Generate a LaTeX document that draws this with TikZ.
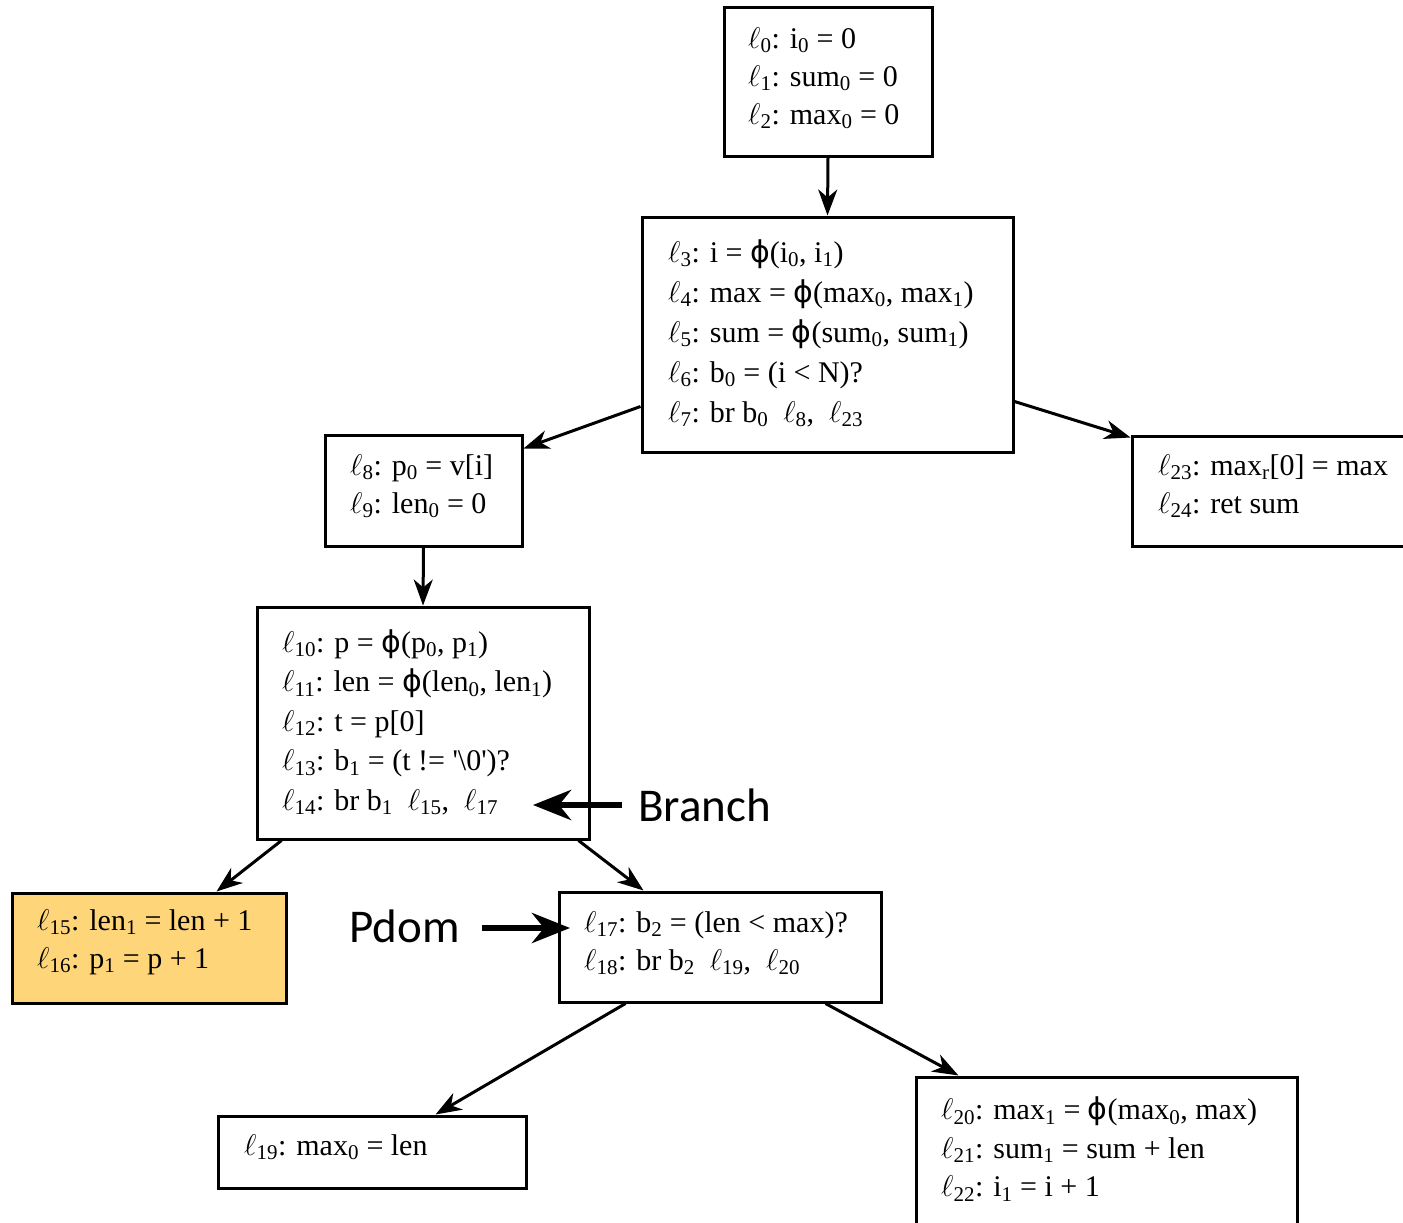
\documentclass[tikz,border=0pt]{standalone}
\usepackage{fix-cm}
\usepackage{fontspec}
\setmainfont{Liberation Serif}
\newfontfamily\phifont{DejaVu Sans}
\newfontfamily\notefont{Carlito}
\usetikzlibrary{arrows.meta}
\definecolor{hot}{RGB}{255,213,121}
\newcommand{\lv}[1]{$\ell$\textsubscript{#1}}
\newcommand{\dn}[1]{\textsubscript{#1}}
\newcommand{\ph}{{\phifont ϕ}}

\begin{document}
\begin{tikzpicture}[x=1pt,y=-1pt,
  blk/.style={draw, line width=3pt, inner sep=0pt},
  code/.style={anchor=west, align=left, inner sep=0pt, font=\fontsize{30}{38}\selectfont},
  flow/.style={line width=3pt, -{Stealth[length=26pt,width=19pt,inset=8pt]}},
  callout/.style={line width=6pt, -{Stealth[length=38pt,width=30pt,inset=12pt]}},
  note/.style={font=\notefont\fontsize{47}{50}\selectfont, inner sep=0pt}]
\useasboundingbox (0,0) rectangle (1403,1223);
\fill[white] (0,0) rectangle (1403,1223);

% basic blocks
\node[blk, minimum width=208pt, minimum height=148pt] (b0) at (828,82) {};
\node[blk, minimum width=371pt, minimum height=235pt] (b1) at (827.5,334.5) {};
\node[blk, minimum width=197pt, minimum height=111pt] (b2) at (423.5,490.5) {};
\node[blk, minimum width=278pt, minimum height=110pt] (b3) at (1271,491) {};
\node[blk, minimum width=332pt, minimum height=232pt] (b4) at (423,723) {};
\node[blk, fill=hot, minimum width=274pt, minimum height=110pt] (b5) at (149,948) {};
\node[blk, minimum width=322pt, minimum height=110pt] (b6) at (720,947) {};
\node[blk, minimum width=308pt, minimum height=72pt] (b7) at (372,1152) {};
\node[blk, minimum width=381pt, minimum height=151pt] (b8) at (1106.5,1152.5) {};

% block contents
\node[code] (t0) at (748,78) {\lv{0}: i\dn{0} = 0\\ \lv{1}: sum\dn{0} = 0\\ \lv{2}: max\dn{0} = 0};
\node[code, font=\fontsize{30}{40}\selectfont] (t1) at (668,333) {\lv{3}: i = \ph(i\dn{0}, i\dn{1})\\ \lv{4}: max = \ph(max\dn{0}, max\dn{1})\\ \lv{5}: sum = \ph(sum\dn{0}, sum\dn{1})\\ \lv{6}: b\dn{0} = (i < N)?\\ \lv{7}: br b\dn{0}~~\lv{8},~~\lv{23}};
\node[code] (t2) at (350,486) {\lv{8}: p\dn{0} = v[i]\\ \lv{9}: len\dn{0} = 0};
\node[code] (t3) at (1158,486) {\lv{23}: max\dn{r}[0] = max\\ \lv{24}: ret sum};
\node[code, font=\fontsize{30}{39.5}\selectfont] (t4) at (282,722) {\lv{10}: p = \ph(p\dn{0}, p\dn{1})\\ \lv{11}: len = \ph(len\dn{0}, len\dn{1})\\ \lv{12}: t = p[0]\\ \lv{13}: b\dn{1} = (t != \textquotesingle\textbackslash 0\textquotesingle)?\\ \lv{14}: br b\dn{1}~~\lv{15},~~\lv{17}};
\node[code] (t5) at (37,942) {\lv{15}: len\dn{1} = len + 1\\ \lv{16}: p\dn{1} = p + 1};
\node[code] (t6) at (584,943) {\lv{17}: b\dn{2} = (len < max)?\\ \lv{18}: br b\dn{2}~~\lv{19},~~\lv{20}};
\node[code] (t7) at (244,1147) {\lv{19}: max\dn{0} = len};
\node[code, font=\fontsize{30}{38.5}\selectfont] (t8) at (941,1149) {\lv{20}: max\dn{1} = \ph(max\dn{0}, max)\\ \lv{21}: sum\dn{1} = sum + len\\ \lv{22}: i\dn{1} = i + 1};

% control-flow edges
\draw[flow] (b0.south) -- (b1.north);
\draw[flow] ([yshift=47pt]b1.south west) -- ([yshift=-15pt]b2.north east);
\draw[flow] ([yshift=52pt]b1.south east) -- ([yshift=-3pt]b3.north west);
\draw[flow] (b2.south) -- (b4.north);
\draw[flow] ([xshift=26pt]b4.south west) -- ([xshift=206pt]b5.north west);
\draw[flow] ([xshift=-12pt]b4.south east) -- ([xshift=86pt]b6.north west);
\draw[flow] ([xshift=68pt]b6.south west) -- ([xshift=219pt]b7.north west);
\draw[flow] ([xshift=-57pt]b6.south east) -- ([xshift=44pt]b8.north west);

% annotations
\node[note, anchor=west] (branch) at (638,805) {Branch};
\coordinate (branchtip) at (533,805);
\draw[callout, shorten <=16pt] (branch.west) -- (branchtip);
\node[note, anchor=east] (pdom) at (460,926) {Pdom};
\coordinate (pdomtip) at (570,928);
\draw[callout, shorten <=22pt] (pdom.east |- pdomtip) -- (pdomtip);
\end{tikzpicture}
\end{document}
